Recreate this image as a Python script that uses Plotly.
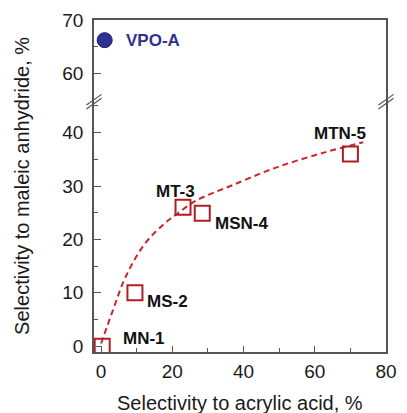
import plotly.graph_objects as go

# Catalyst selectivities (%)
samples = ["MN-1", "MS-2", "MT-3", "MSN-4", "MTN-5"]
acrylic_acid = [0.3, 9.5, 23.0, 28.4, 70.0]
maleic_anhydride = [0.0, 10.0, 26.0, 24.9, 36.0]

# Reference catalyst
ref_name = "VPO-A"
ref_acrylic = [1.0]
ref_maleic = [66.2]

# Trend line through the series
trend_x = [0.0, 3.3, 6.9, 12.3, 17.7, 21.4, 26.8, 36.7, 49.3, 62.8, 73.6]
trend_y = [0.5, 6.7, 13.0, 19.2, 22.9, 24.8, 27.3, 30.1, 33.5, 36.3, 38.2]

# Label positions (data units) for each sample
label_x = [5.7, 12.4, 20.9, 31.4, 67.0]
label_y = [1.5, 8.3, 29.0, 23.0, 39.8]
label_anchor = ["left", "left", "center", "left", "center"]

FONT = "Arial, Liberation Sans, sans-serif"
RED = "#B01E23"
BLUE = "#2E3192"
AXIS = "#555555"
BREAK = 0.754

fig = go.Figure()

fig.add_trace(go.Scatter(
    x=trend_x, y=trend_y, mode="lines", line=dict(color="#C8282C", width=2, dash="6px,4px", shape="spline"),
    xaxis="x", yaxis="y", hoverinfo="skip", showlegend=False))

fig.add_trace(go.Scatter(
    x=acrylic_acid, y=maleic_anhydride, mode="markers", text=samples,
    marker=dict(symbol="square-open", size=15, color=RED, line=dict(width=2, color=RED)),
    xaxis="x", yaxis="y", showlegend=False))

fig.add_trace(go.Scatter(
    x=ref_acrylic, y=ref_maleic, mode="markers", text=[ref_name],
    marker=dict(symbol="circle", size=15, color=BLUE, line=dict(width=1, color="#1B1C6B")),
    xaxis="x2", yaxis="y2", showlegend=False))

for name, lx, ly, anc in zip(samples, label_x, label_y, label_anchor):
    fig.add_annotation(x=lx, y=ly, xref="x", yref="y", text=f"<b>{name}</b>", showarrow=False,
                       xanchor=anc, yanchor="middle", font=dict(family=FONT, size=17, color="#111111"))

fig.add_annotation(x=6.5, y=66.2, xref="x2", yref="y2", text=f"<b>{ref_name}</b>", showarrow=False,
                   xanchor="left", yanchor="middle", font=dict(family=FONT, size=17, color=BLUE))

# Axis-break marks on the left and right frame lines
for xp in (0.0, 1.0):
    for dy in (-0.006, 0.006):
        fig.add_shape(type="line", xref="paper", yref="paper",
                      x0=xp - 0.026, y0=BREAK + dy - 0.016, x1=xp + 0.026, y1=BREAK + dy + 0.016,
                      line=dict(color=AXIS, width=1.2))

tick_font = dict(family=FONT, size=19, color="#1a1a1a")
title_font = dict(family=FONT, size=20, color="#1a1a1a")

fig.update_layout(
    width=407, height=413,
    margin=dict(l=94, r=10, t=19, b=61),
    paper_bgcolor="white", plot_bgcolor="white",
    xaxis=dict(domain=[0, 1], anchor="y", range=[-2, 80], tickvals=[0, 20, 40, 60, 80],
               ticks="inside", ticklen=6, tickcolor=AXIS, showline=True, linecolor=AXIS, linewidth=1.5,
               showgrid=False, zeroline=False, tickfont=tick_font, ticklabelstandoff=1,
               minor=dict(tickvals=[10, 30, 50, 70], ticks="inside", ticklen=4, tickcolor=AXIS)),
    xaxis2=dict(domain=[0, 1], anchor="y2", matches="x", range=[-2, 80], side="top",
                showticklabels=False, ticks="", showline=True, linecolor=AXIS, linewidth=1.5,
                showgrid=False, zeroline=False),
    yaxis=dict(domain=[0, BREAK], anchor="x", range=[-1.1, 45.8], tickvals=[0, 10, 20, 30, 40],
               ticks="inside", ticklen=7, tickcolor=AXIS, showline=True, mirror=True, linecolor=AXIS,
               linewidth=1.5, showgrid=False, zeroline=False, tickfont=tick_font, ticklabelstandoff=5,
               minor=dict(tickvals=[5, 15, 25, 35, 45], ticks="inside", ticklen=4, tickcolor=AXIS)),
    yaxis2=dict(domain=[BREAK, 1], anchor="x2", range=[54.6, 70], tickvals=[60, 70],
                ticks="inside", ticklen=7, tickcolor=AXIS, showline=True, mirror=True, linecolor=AXIS,
                linewidth=1.5, showgrid=False, zeroline=False, tickfont=tick_font, ticklabelstandoff=5,
                minor=dict(tickvals=[65], ticks="inside", ticklen=4, tickcolor=AXIS)),
)

# Axis titles placed in paper coordinates
fig.add_annotation(text="Selectivity to acrylic acid, %", xref="paper", yref="paper",
                   x=0.5, y=-0.155, showarrow=False, xanchor="center", yanchor="middle", font=title_font)
fig.add_annotation(text="Selectivity to maleic anhydride, %", xref="paper", yref="paper",
                   x=-0.247, y=0.5, textangle=-90, showarrow=False, xanchor="center", yanchor="middle",
                   font=title_font)

fig.write_html("out.html")
